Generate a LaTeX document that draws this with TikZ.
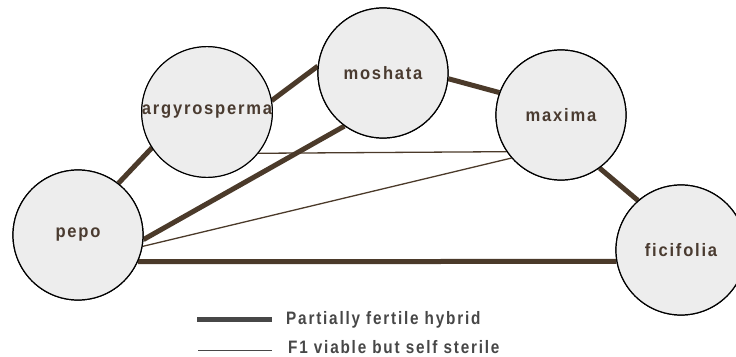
\documentclass[tikz,border=0pt]{standalone}
\usepackage{fontspec}
\setmainfont{Liberation Sans}
\newfontfamily\lblfont[LetterSpace=10,FakeStretch=0.92]{Liberation Sans Bold}
\newfontfamily\legfont[LetterSpace=10,FakeStretch=0.85]{Liberation Sans Bold}
\definecolor{linebrown}{HTML}{4B3A2A}
\definecolor{txtbrown}{HTML}{4A3B30}
\definecolor{circfill}{HTML}{EDEDED}
\definecolor{leggray}{HTML}{474747}
\begin{document}
\begin{tikzpicture}[x=1pt,y=-1pt,
  species/.style={circle, draw=black, line width=1.2pt, fill=circfill, minimum size=130pt, inner sep=0pt,
    font=\lblfont\fontsize{18}{18}\selectfont, text=txtbrown},
  fertile/.style={draw=linebrown, line width=5pt},
  sterile/.style={draw=linebrown, line width=1.3pt},
  legtext/.style={anchor=base west, inner sep=0pt, text=leggray, font=\legfont\fontsize{18}{18}\selectfont}]
\useasboundingbox (0,0) rectangle (736,356);
\coordinate (cpepo) at (78,235);
\coordinate (cargy) at (207,112);
\coordinate (cmosh) at (383,73);
\coordinate (cmax) at (561,115);
\coordinate (cfic) at (681,250);
% invisible geometry nodes used for anchors
\node[species] (pepo) at (cpepo) {};
\node[species] (argy) at (cargy) {};
\node[species] (mosh) at (cmosh) {};
\node[species] (max) at (cmax) {};
\node[species] (fic) at (cfic) {};
% connectors
\path[fertile] (pepo.52) -- (argy.213);
\path[fertile] (argy.10) -- (mosh.174);
\path[fertile] (mosh.-5) -- (max.160);
\path[fertile] (max.-54) -- (fic.131);
\path[fertile] (pepo.-4) -- (mosh.234);
\path[fertile] (pepo.-24.5) -- (fic.190.6);
\path[sterile] (argy.-39) -- (max.214);
\path[sterile] (pepo.-10.5) -- (max.221);
% circles with labels on top
\node[species] (pepoL) at (cpepo) {pepo};
\node[species] (argyL) at (cargy) {argyrosperma};
\node[species] (moshL) at (cmosh) {moshata};
\node[species] (maxL) at (cmax) {maxima};
\node[species] (ficL) at (cfic) {ficifolia};
% legend
\node[legtext] (leg1) at (286,324) {Partially fertile hybrid};
\node[legtext] (leg2) at (288,353) {F1 viable but self sterile};
\coordinate (l1s) at (197,319);
\coordinate (l1e) at (272,319);
\coordinate (l2s) at (198,350.5);
\coordinate (l2e) at (272,350.5);
\draw[draw=leggray, line width=5pt] (l1s) -- (l1e);
\draw[draw=leggray, line width=1.2pt] (l2s) -- (l2e);
\end{tikzpicture}
\end{document}
